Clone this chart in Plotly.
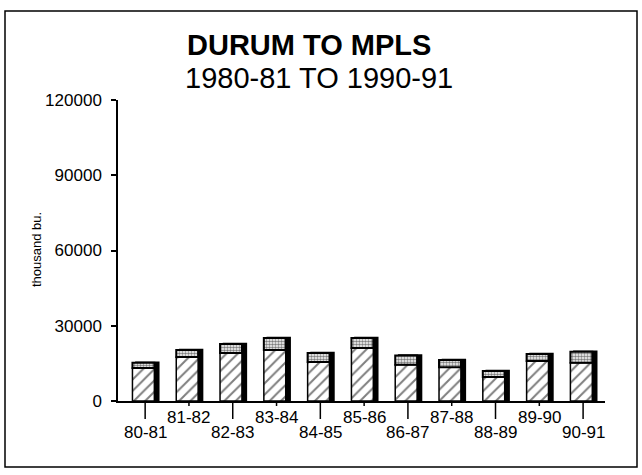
import plotly.graph_objects as go

categories = ["80-81", "81-82", "82-83", "83-84", "84-85", "85-86",
              "86-87", "87-88", "88-89", "89-90", "90-91"]
lower_vals = [13200, 17500, 19100, 20300, 15500, 21100, 14500, 13500, 9600, 15900, 15200]
upper_vals = [2000, 2800, 3600, 4800, 3600, 4000, 3600, 2800, 2400, 2800, 4400]
totals = [a + b for a, b in zip(lower_vals, upper_vals)]
y_ticks = [0, 30000, 60000, 90000, 120000]

W, H = 642, 475
L, R, T, B = 118, 37, 100, 74
pw, ph = W - L - R, H - T - B


def xp(px):
    return (px - L) / pw


def yp(py):
    return (H - B - py) / ph


FONT = "Liberation Sans, Arial, sans-serif"
bw = 0.5
off = -bw / 2 - 0.04
sh = 0.09

fig = go.Figure()
# shadow
fig.add_trace(go.Bar(x=categories, y=totals, width=bw, offset=off + sh,
                     marker=dict(color="black", line=dict(color="black", width=2.5)),
                     showlegend=False, hoverinfo="skip"))
fig.add_trace(go.Bar(x=categories, y=lower_vals, width=bw, offset=off,
                     marker=dict(color="white", line=dict(color="black", width=1.5),
                                 pattern=dict(shape="/", fgcolor="black", bgcolor="white",
                                              size=8, solidity=0.25)),
                     showlegend=False))
fig.add_trace(go.Bar(x=categories, y=upper_vals, base=lower_vals, width=bw, offset=off,
                     marker=dict(color="white", line=dict(color="black", width=2),
                                 pattern=dict(shape=".", fgcolor="black", bgcolor="white",
                                              size=3, solidity=0.55)),
                     showlegend=False))

shapes = []
annotations = []
for i, c in enumerate(categories):
    long_tick = (i % 2 == 0)
    tl = 18 if long_tick else 5
    shapes.append(dict(type="line", xref="x", yref="paper", x0=i, x1=i,
                       y0=0, y1=-tl / ph, line=dict(color="black", width=1.5)))
    annotations.append(dict(x=c, xref="x", yref="paper", y=0,
                            yshift=-31 if long_tick else -16, yanchor="middle",
                            text=c, showarrow=False,
                            font=dict(family=FONT, size=17, color="black")))

shapes.append(dict(type="rect", xref="paper", yref="paper",
                   x0=xp(5), x1=xp(637), y0=yp(467), y1=yp(11),
                   line=dict(color="black", width=1.5)))

annotations.append(dict(xref="paper", yref="paper", x=xp(309), y=yp(45),
                        text="<b>DURUM TO MPLS</b>", showarrow=False,
                        yanchor="middle", xanchor="center",
                        font=dict(family=FONT, size=29, color="black")))
annotations.append(dict(xref="paper", yref="paper", x=xp(319), y=yp(78),
                        text="1980-81 TO 1990-91", showarrow=False,
                        yanchor="middle", xanchor="center",
                        font=dict(family=FONT, size=29, color="black")))
annotations.append(dict(xref="paper", yref="paper", x=xp(36), y=yp(250),
                        text="thousand bu.", showarrow=False, textangle=-90,
                        yanchor="middle", xanchor="center",
                        font=dict(family=FONT, size=13, color="black")))

fig.update_layout(
    width=W, height=H,
    margin=dict(l=L, r=R, t=T, b=B),
    paper_bgcolor="white", plot_bgcolor="white",
    barmode="overlay",
    shapes=shapes, annotations=annotations,
    xaxis=dict(type="category", range=[-0.62, 10.5], showline=True,
               linecolor="black", linewidth=1.5, showticklabels=False,
               ticks="", showgrid=False, zeroline=False, fixedrange=True),
    yaxis=dict(range=[0, 120000], tickvals=y_ticks, ticktext=[str(v) for v in y_ticks],
               showline=True, linecolor="black", linewidth=1.5,
               ticks="outside", ticklen=5, tickcolor="black", tickwidth=1.5,
               showgrid=False, zeroline=False,
               tickfont=dict(family=FONT, size=17, color="black"),
               ticklabelstandoff=6),
)

fig.write_html("out.html", config={"displayModeBar": False},
               post_script="document.body.style.margin='0';document.body.style.padding='0';")
